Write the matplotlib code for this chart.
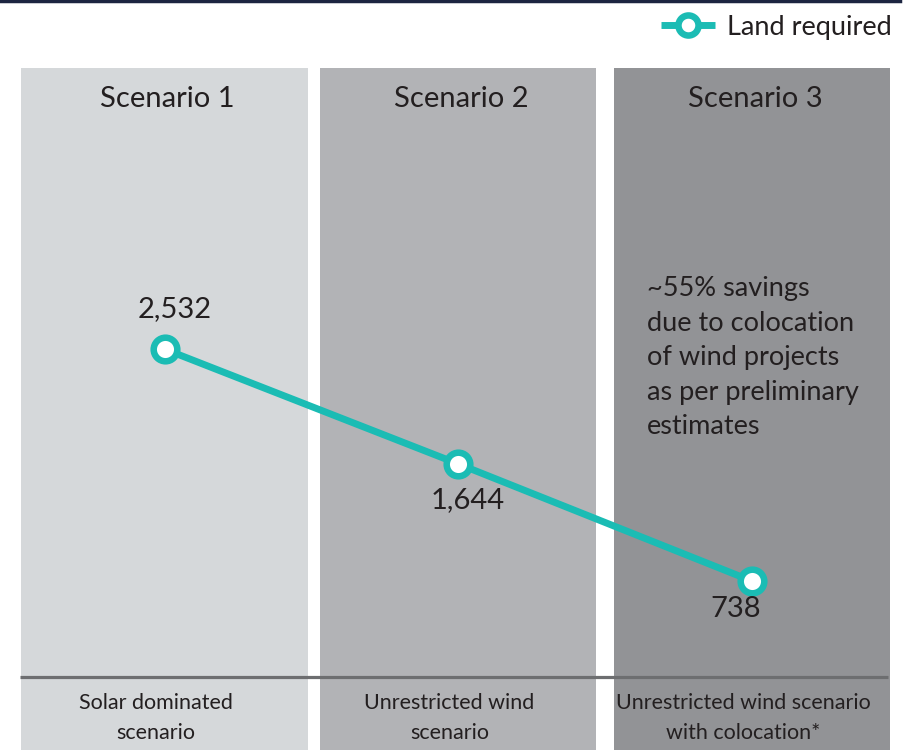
import matplotlib
matplotlib.use("Agg")
import matplotlib.pyplot as plt
from matplotlib.lines import Line2D
from matplotlib.transforms import blended_transform_factory

# data
scenarios = ["Scenario 1", "Scenario 2", "Scenario 3"]
descriptions = ["Solar dominated\nscenario", "Unrestricted wind\nscenario",
                "Unrestricted wind scenario\nwith colocation*"]
land_required = [2532, 1644, 738]
value_labels = ["2,532", "1,644", "738"]
note = "~55% savings\ndue to colocation\nof wind projects\nas per preliminary\nestimates"

# styles
panel_colors = ["#d5d8da", "#b2b3b6", "#929396"]
panel_halfw = [0.49, 0.47, 0.47]
teal = "#1bbcb4"
txt = "#231f20"
FONT = ["Lato", "DejaVu Sans"]
plt.rcParams["font.family"] = FONT
plt.rcParams["font.weight"] = "normal"

W, H = 915, 750
fig = plt.figure(figsize=(W / 100, H / 100), dpi=100)
ax = fig.add_axes([0, 0, 1, 1])
ax.axis("off")

# pixel -> data mapping
x0, dx = 164.5, 293.75
y_zero_px = 73.5          # from bottom
upp = 7.733               # units per pixel
ax.set_xlim(-x0 / dx, (W - x0) / dx)
ax.set_ylim(-y_zero_px * upp, (H - y_zero_px) * upp)

xs = list(range(len(scenarios)))
top_frac = (H - 68) / H
for i, c in enumerate(panel_colors):
    ax.axvspan(xs[i] - panel_halfw[i], xs[i] + panel_halfw[i], ymin=0, ymax=top_frac,
               color=c, lw=0, zorder=0)

ax.hlines(0, (20 - x0) / dx, (888 - x0) / dx, color="#6d6e70", lw=2.3, zorder=1)

line, = ax.plot(xs, land_required, color=teal, lw=5, marker="o", markersize=17,
                markerfacecolor="white", markeredgecolor=teal, markeredgewidth=4.7,
                label="Land required", zorder=3, solid_capstyle="butt")

trans = blended_transform_factory(ax.transData, ax.transAxes)
for i, s in enumerate(scenarios):
    ax.text(xs[i] + 0.01, 1 - 99 / H, s, transform=trans, ha="center", va="center",
            fontsize=21, color=txt)
    ax.text(xs[i] - 0.03, 1 - 718 / H, descriptions[i], transform=trans, ha="center",
            va="center", fontsize=15.5, color=txt, linespacing=1.6)

offsets = [(7, 29), (7, -26), (-12, -20)]
for i, lab in enumerate(value_labels):
    ax.annotate(lab, (xs[i], land_required[i]), textcoords="offset points",
                xytext=offsets[i], ha="center", va="center", fontsize=21, color=txt)

ax.text((647 - x0) / dx, 1 - 276 / H, note, transform=trans, ha="left", va="top",
        fontsize=19.5, color=txt, linespacing=1.48)

fig.add_artist(Line2D([0, 900 / W], [1 - 1 / H, 1 - 1 / H], color="#1c2541", lw=2.5))

leg = fig.legend(handles=[line], loc="center right", bbox_to_anchor=(903 / W, 1 - 27 / H),
                 frameon=False, fontsize=19.5, handlelength=2.0, handletextpad=0.45,
                 borderaxespad=0, markerscale=0.85)
for t in leg.get_texts():
    t.set_color(txt)

fig.savefig("out.png", dpi=100)
